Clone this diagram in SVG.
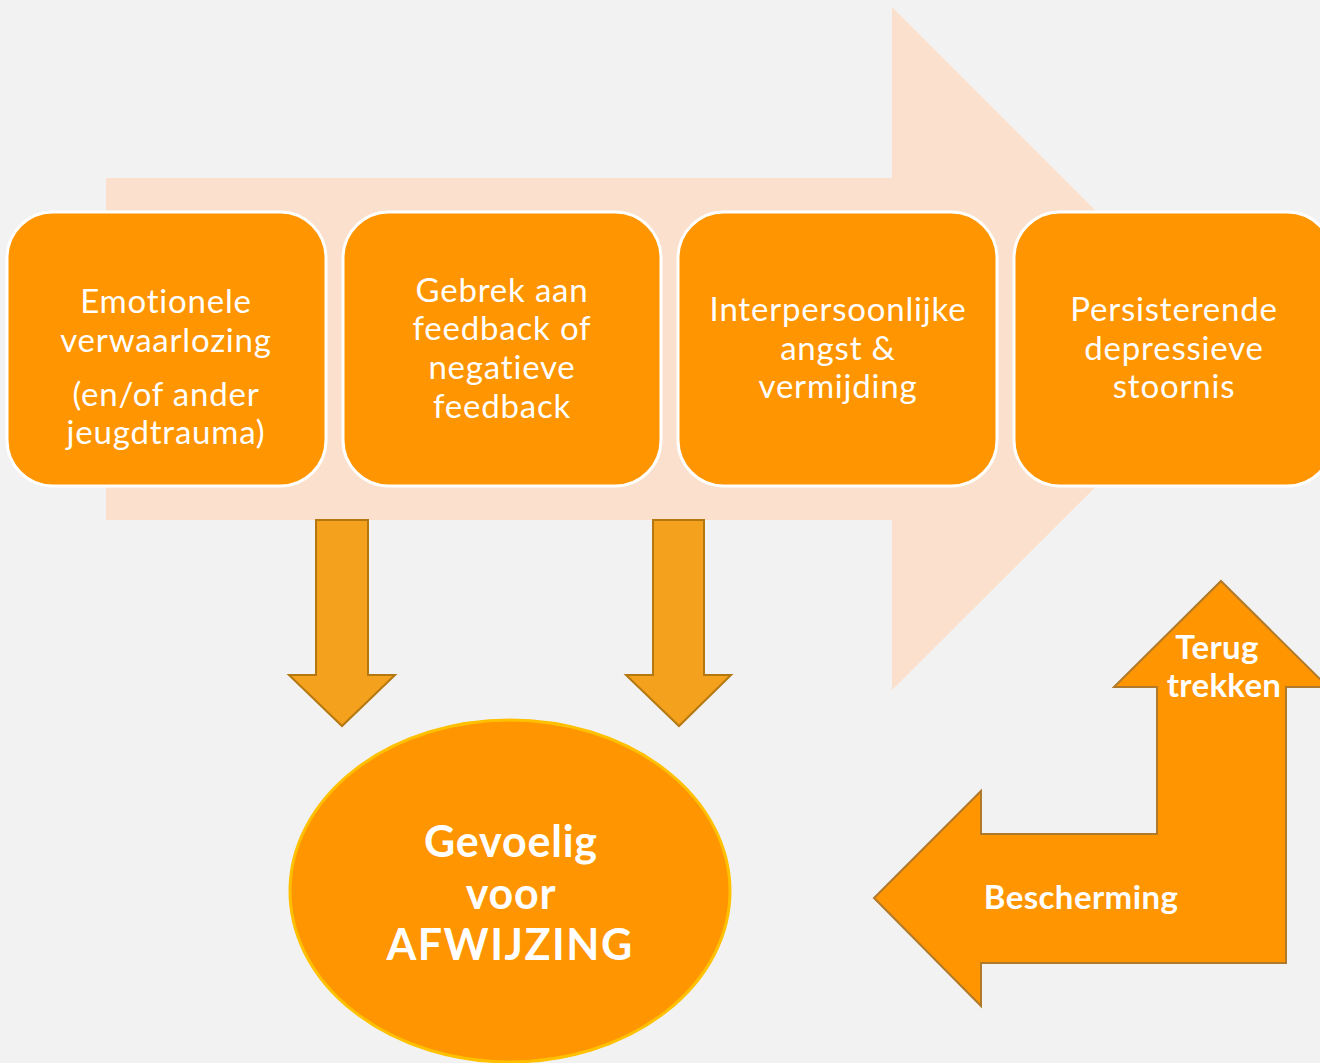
<svg xmlns="http://www.w3.org/2000/svg" width="1320" height="1063" viewBox="0 0 1320 1063">
  <style>
    .bg { fill: #f2f2f2; }
    .flow { fill: #fbe1cd; }
    .box { fill: #ff9500; stroke: #ffffff; stroke-width: 3; }
    .boxtext { fill: #ffffff; font-family: Lato, "Open Sans", sans-serif; font-size: 33px; letter-spacing: 0.8px; text-anchor: middle; font-variant-ligatures: none; }
    .down { fill: #f4a21e; stroke: #b5780f; stroke-width: 2; }
    .oval { fill: #ff9500; stroke: #ffc000; stroke-width: 3; }
    .bold { fill: #ffffff; font-family: Lato, "Open Sans", sans-serif; font-weight: bold; text-anchor: middle; font-variant-ligatures: none; }
    .bent { fill: #ff9500; stroke: #b07a2a; stroke-width: 2; }
  </style>

  <rect class="bg" x="0" y="0" width="1320" height="1063"/>

  <!-- wide background arrow pointing right -->
  <polygon class="flow" points="106,178 892,178 892,7 1234,349 892,690 892,520 106,520"/>

  <!-- process steps (tspans kept on one line so no stray spaces shift the centring) -->
  <g id="step-emotionele-verwaarlozing">
    <rect class="box" x="7" y="212" width="319" height="274" rx="46"/>
    <text class="boxtext"><tspan x="166" y="313">Emotionele</tspan><tspan x="166" y="352">verwaarlozing</tspan><tspan x="166" y="406">(en/of ander</tspan><tspan x="166" y="444">jeugdtrauma)</tspan></text>
  </g>
  <g id="step-gebrek-aan-feedback">
    <rect class="box" x="343" y="212" width="318" height="274" rx="46"/>
    <text class="boxtext"><tspan x="502" y="302">Gebrek aan</tspan><tspan x="502" y="340">feedback of</tspan><tspan x="502" y="379">negatieve</tspan><tspan x="502" y="418">feedback</tspan></text>
  </g>
  <g id="step-interpersoonlijke-angst">
    <rect class="box" x="678" y="212" width="319" height="274" rx="46"/>
    <text class="boxtext"><tspan x="838" y="321">Interpersoonlijke</tspan><tspan x="838" y="360">angst &amp;</tspan><tspan x="838" y="398">vermijding</tspan></text>
  </g>
  <g id="step-persisterende-depressieve-stoornis">
    <rect class="box" x="1014" y="212" width="319" height="274" rx="46"/>
    <text class="boxtext"><tspan x="1174" y="321">Persisterende</tspan><tspan x="1174" y="360">depressieve</tspan><tspan x="1174" y="398">stoornis</tspan></text>
  </g>

  <!-- connectors into the central outcome -->
  <g id="connectors">
    <polygon class="down" points="316,520 368,520 368,675 395,675 342,726 289,675 316,675"/>
    <polygon class="down" points="653,520 704,520 704,675 731,675 679,726 626,675 653,675"/>
    <path id="bent-arrow" class="bent" d="M1221,581 L1328,687 L1286,687 L1286,963 L981,963 L981,1006 L874,898 L981,791 L981,834 L1157,834 L1157,687 L1114,687 Z"/>
  </g>

  <g id="outcome-gevoelig-voor-afwijzing">
    <ellipse class="oval" cx="510" cy="891" rx="220" ry="171"/>
    <text class="bold" font-size="43" letter-spacing="0.8"><tspan x="511" y="857">Gevoelig</tspan><tspan x="511" y="909">voor</tspan><tspan x="510" y="960" letter-spacing="1.5">AFWIJZING</tspan></text>
  </g>

  <g id="label-terug-trekken">
    <text class="bold" font-size="33" letter-spacing="0.3"><tspan x="1217" y="659">Terug</tspan><tspan x="1224" y="697">trekken</tspan></text>
  </g>
  <g id="label-bescherming">
    <text class="bold" font-size="33" letter-spacing="0.4" x="1081" y="909">Bescherming</text>
  </g>
</svg>
